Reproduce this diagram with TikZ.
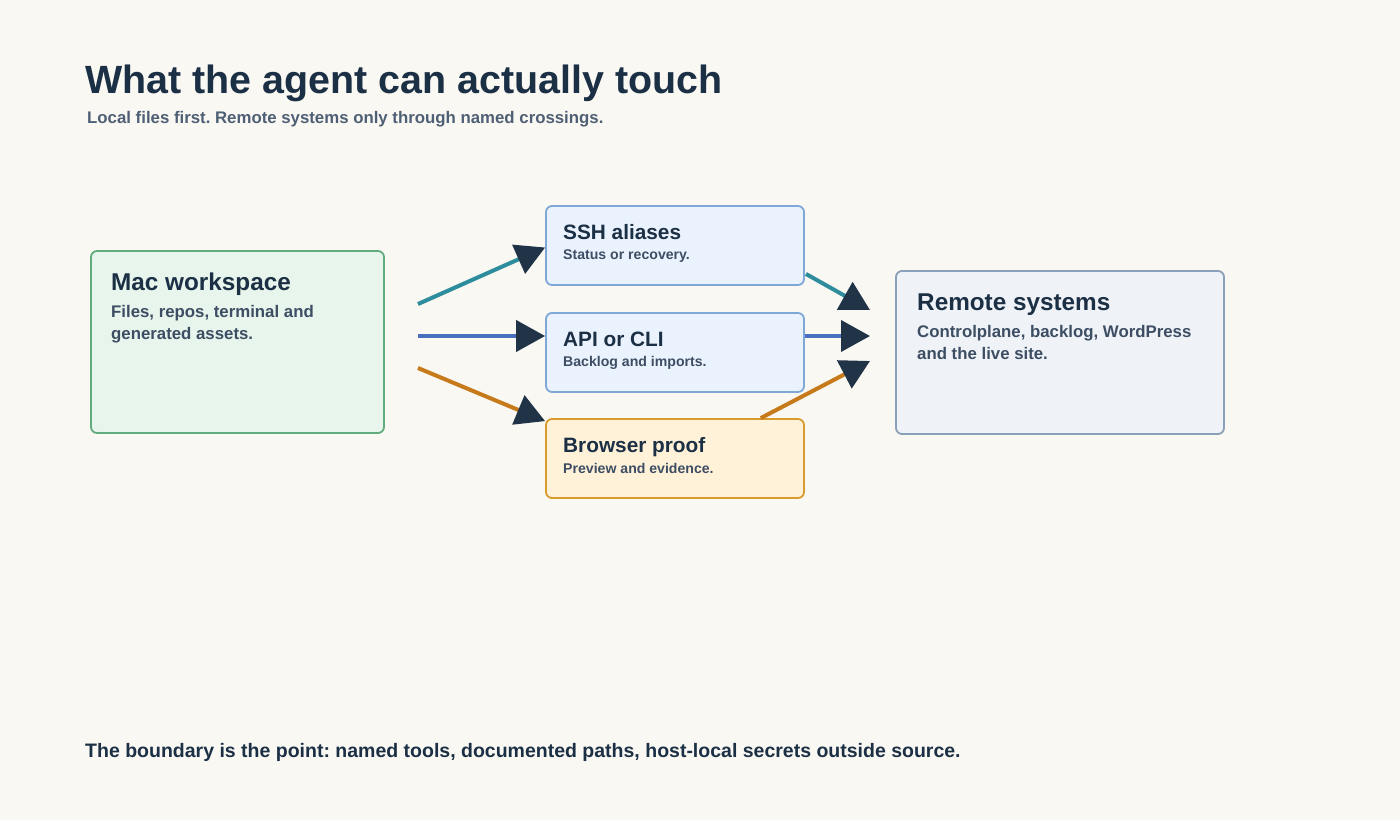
\documentclass[tikz,border=0pt]{standalone}
\usepackage{fontspec}
\setmainfont{Liberation Sans}
\usetikzlibrary{positioning,arrows.meta,calc}
\definecolor{bgpaper}{HTML}{FAF8F3}
\definecolor{inkdark}{HTML}{1B2F45}
\definecolor{inkslate}{HTML}{4F5F75}
\definecolor{inkbody}{HTML}{3D4D63}
\definecolor{macfill}{HTML}{E8F5EC}
\definecolor{macdraw}{HTML}{62AB7D}
\definecolor{xfill}{HTML}{EAF3FD}
\definecolor{xdraw}{HTML}{7FA7D8}
\definecolor{pffill}{HTML}{FFF2D8}
\definecolor{pfdraw}{HTML}{D99A2E}
\definecolor{remfill}{HTML}{EFF3F7}
\definecolor{remdraw}{HTML}{8AA0B8}
\definecolor{lnteal}{HTML}{2E8D9C}
\definecolor{lnblue}{HTML}{4A6FBE}
\definecolor{lnorange}{HTML}{C77A1A}
\definecolor{tipnavy}{HTML}{203347}
\newcommand{\twolines}[2]{\begin{tabular}[t]{@{}l@{}}#1\\#2\end{tabular}}
\frenchspacing

\begin{document}
\begin{tikzpicture}[x=1pt,y=-1pt,
  panel/.style={rectangle,rounded corners=6pt,line width=1.8pt,inner sep=0pt},
  bigbox/.style={panel,draw=#1draw,fill=#1fill},
  hd/.style={anchor=base west,inner sep=0pt,text=inkdark,font=\fontsize{24.3}{28}\selectfont\bfseries},
  sub/.style={anchor=base west,inner sep=0pt,text=inkdark,font=\fontsize{20.8}{24}\selectfont\bfseries},
  bd/.style={anchor=base west,inner sep=0pt,text=inkbody,font=\fontsize{16.8}{22}\selectfont\bfseries},
  sbd/.style={anchor=base west,inner sep=0pt,text=inkbody,font=\fontsize{14.1}{17}\selectfont\bfseries},
  ar/.style={line width=4pt,#1,-{Triangle[length=29pt,width=31pt,color=tipnavy]}}]
\useasboundingbox (0,0) rectangle (1400,820);
\fill[bgpaper] (0,0) rectangle (1400,820);
% heading
\node[anchor=base west,inner sep=0pt,text=inkdark,font=\fontsize{39.4}{46}\selectfont\bfseries] (ttl) at (85,93) {What the agent can actually touch};
\node[anchor=base west,inner sep=0pt,text=inkslate,font=\fontsize{16.8}{20}\selectfont\bfseries] (stl) at (87,123) {Local files first. Remote systems only through named crossings.};
% boxes
\node[bigbox=mac,minimum width=293pt,minimum height=182pt] (mac) at (237.5,342) {};
\node[bigbox=x,minimum width=258pt,minimum height=79pt] (ssh) at (675,245.5) {};
\node[bigbox=x,minimum width=258pt,minimum height=79pt] (api) at (675,352.5) {};
\node[bigbox=pf,minimum width=258pt,minimum height=79pt] (pf) at (675,458.5) {};
\node[bigbox=rem,minimum width=328pt,minimum height=163pt] (rem) at (1060,352.5) {};
% box texts
\node[hd] (mac-h) at (111,290) {Mac workspace};
\node[bd] (mac-b) at (111,317) {\twolines{Files, repos, terminal and}{generated assets.}};
\node[sub] (ssh-h) at (563,239) {SSH aliases};
\node[sbd] (ssh-b) at (563,259) {Status or recovery.};
\node[sub] (api-h) at (563,346) {API or CLI};
\node[sbd] (api-b) at (563,366) {Backlog and imports.};
\node[sub] (pf-h) at (563,452) {Browser proof};
\node[sbd] (pf-b) at (563,473) {Preview and evidence.};
\node[hd] (rem-h) at (917,310) {Remote systems};
\node[bd] (rem-b) at (917,337) {\twolines{Controlplane, backlog, WordPress}{and the live site.}};
% crossings
\coordinate (m1) at (418,304);
\coordinate (m2) at (418,336);
\coordinate (m3) at (418,368);
\coordinate (r1) at (870,310);
\coordinate (r2) at (870,336);
\coordinate (r3) at (870,361);
\draw[ar=lnteal] (m1) -- ([yshift=-2pt]ssh.west);
\draw[ar=lnblue] (m2) -- (m2 -| api.west);
\draw[ar=lnorange] (m3) -- ([yshift=-3pt]pf.north west);
\draw[ar=lnteal] ($(ssh.south east)+(1,-12)$) -- (r1);
\draw[ar=lnblue] (api.east |- r2) -- (r2);
\draw[ar=lnorange] ($(pf.north west)!0.83!(pf.north east)$) -- (r3);
% footer
\node[anchor=base west,inner sep=0pt,text=inkdark,font=\fontsize{19.5}{23}\selectfont\bfseries] (ftr) at (85,757) {The boundary is the point: named tools, documented paths, host-local secrets outside source.};
\end{tikzpicture}
\end{document}
